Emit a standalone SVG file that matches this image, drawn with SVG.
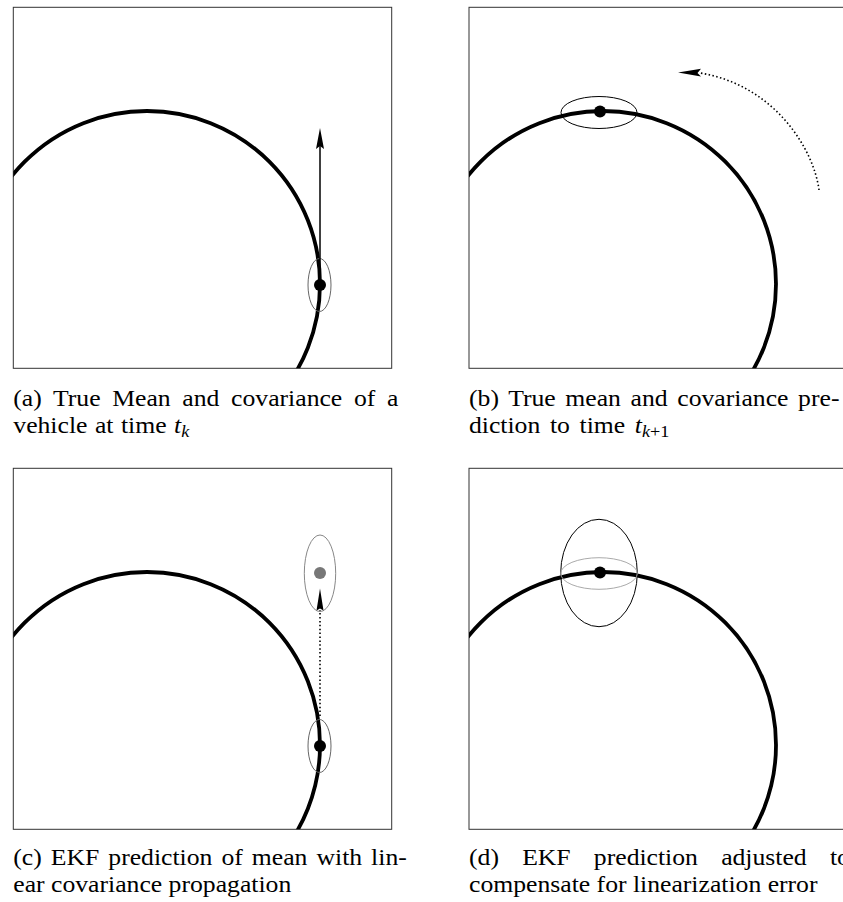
<svg xmlns="http://www.w3.org/2000/svg" width="843" height="902" viewBox="0 0 843 902">
<style>
.frame{fill:#fff;stroke:#333;stroke-width:1}
.track{fill:none;stroke:#000;stroke-width:3.8}
.dot{fill:#000}
.cov{fill:none;stroke:#666;stroke-width:1}
.dotted{fill:none;stroke:#000;stroke-width:1.6;stroke-dasharray:1.5 2.4}
.solid{fill:none;stroke:#000;stroke-width:1.5}
</style>
<defs>
<clipPath id="ca"><rect x="13.3" y="7.3" width="378.4" height="361"/></clipPath>
<clipPath id="cb"><rect x="469" y="7.3" width="378" height="361"/></clipPath>
<clipPath id="cc"><rect x="13.3" y="468.3" width="378.4" height="361"/></clipPath>
<clipPath id="cd"><rect x="469" y="468.3" width="378" height="361"/></clipPath>
</defs>

<g id="panel-a">
<rect class="frame" x="13.3" y="7.3" width="378.4" height="361"/>
<g clip-path="url(#ca)"><circle class="track" cx="147" cy="284" r="173"/></g>
<ellipse class="cov" cx="319.5" cy="285" rx="11.5" ry="26.5"/>
<circle class="dot" cx="320" cy="285" r="6"/>
</g>

<g id="panel-b">
<rect class="frame" x="469" y="7.3" width="378" height="361"/>
<g clip-path="url(#cb)"><circle class="track" cx="603" cy="284" r="173"/></g>
<ellipse cx="599" cy="112.5" rx="38" ry="16" fill="none" stroke="#000" stroke-width="1"/>
<circle class="dot" cx="600" cy="111.5" r="6"/>
</g>

<g id="panel-c">
<rect class="frame" x="13.3" y="468.3" width="378.4" height="361"/>
<g clip-path="url(#cc)"><circle class="track" cx="147" cy="745" r="173"/></g>
<ellipse class="cov" cx="319.5" cy="746" rx="11.5" ry="26.5"/>
<circle class="dot" cx="320" cy="746" r="6"/>
<ellipse cx="320" cy="573.3" rx="15.7" ry="38.3" fill="none" stroke="#888" stroke-width="1"/>
<circle cx="320" cy="573" r="6" fill="#777"/>
</g>

<g id="panel-d">
<rect class="frame" x="469" y="468.3" width="378" height="361"/>
<g clip-path="url(#cd)"><circle class="track" cx="603" cy="745" r="173"/></g>
<ellipse cx="599" cy="573" rx="38.3" ry="53.7" fill="none" stroke="#000" stroke-width="1"/>
<ellipse cx="599" cy="573.5" rx="38.3" ry="15.8" fill="none" stroke="#aaa" stroke-width="1"/>
<circle class="dot" cx="600" cy="572.5" r="6"/>
</g>

<g id="connectors">
<line class="solid" x1="320" y1="285" x2="320" y2="146"/>
<path d="M320,128 L324,149 L320,146 L316,149 Z" fill="#000"/>
<path class="dotted" d="M819,190 C814,150 775,85 700,73"/>
<path d="M678,72.5 L701,68.8 L697.5,73 L701,76.5 Z" fill="#000"/>
<line class="dotted" x1="320" y1="716" x2="320" y2="610"/>
<path d="M320,588.5 L323.5,610.5 L320,608.5 L316.5,610.5 Z" fill="#000"/>
</g>

<g font-family="'Liberation Serif', 'Times New Roman', serif" font-size="24" fill="#000">
<g id="caption-a">
<text transform="translate(13.3,406) scale(1.07,1)" word-spacing="4.92">(a) True Mean and covariance of a</text>
<text transform="translate(13.3,433) scale(1.07,1)" word-spacing="1">vehicle at time <tspan font-style="italic">t</tspan><tspan font-style="italic" font-size="17" dy="4">k</tspan></text>
</g>

<g id="caption-b">
<text transform="translate(469,406) scale(1.07,1)" word-spacing="3.03">(b) True mean and covariance pre-</text>
<text transform="translate(469,433) scale(1.07,1)" word-spacing="3">diction to time <tspan font-style="italic">t</tspan><tspan font-style="italic" font-size="17" dy="4">k</tspan><tspan font-size="17">+1</tspan></text>
</g>

<g id="caption-c">
<text transform="translate(13.3,865) scale(1.07,1)" word-spacing="2.44">(c) EKF prediction of mean with lin-</text>
<text transform="translate(13.3,892) scale(1.07,1)">ear covariance propagation</text>
</g>

<g id="caption-d">
<text transform="translate(469,865) scale(1.07,1)" word-spacing="15.7">(d) EKF prediction adjusted to</text>
<text transform="translate(469,892) scale(1.07,1)">compensate for linearization error</text>
</g>
</g>
</svg>
